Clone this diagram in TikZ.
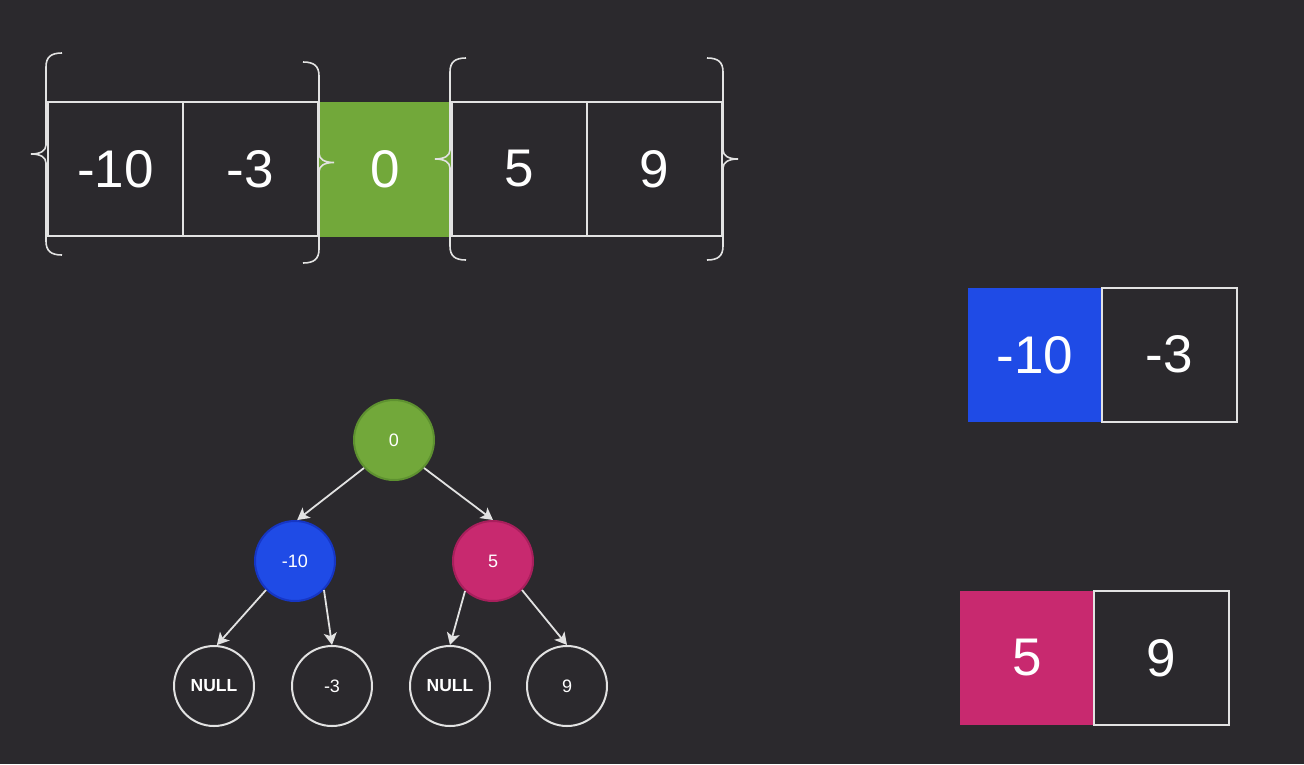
\documentclass[tikz,border=0pt]{standalone}
\usepackage{fontspec}
\setmainfont{Liberation Sans}
\usetikzlibrary{arrows.meta}
\definecolor{bg}{HTML}{2B292D}
\definecolor{ln}{HTML}{E2E2E2}
\definecolor{grn}{HTML}{72A83A}
\definecolor{grnd}{HTML}{5E9130}
\definecolor{blu}{HTML}{1F4BE6}
\definecolor{blud}{HTML}{1636C4}
\definecolor{pnk}{HTML}{C8296F}
\definecolor{pnkd}{HTML}{A81F5C}
\tikzset{
  cell/.style={draw=ln, line width=2pt, minimum width=135pt, minimum height=134pt, inner sep=0pt, text=white, font=\fontsize{53}{53}\selectfont},
  gcell/.style={fill=grn, minimum width=134pt, minimum height=135pt, inner sep=0pt, text=white, font=\fontsize{53}{53}\selectfont},
  ccell/.style={minimum width=134pt, minimum height=134pt, inner sep=0pt, text=white, font=\fontsize{53}{53}\selectfont},
  brc/.style={draw=ln, line width=1.6pt},
  pics/curly/.style={code={
    \draw[brc] (16,{-#1}) .. controls (5,{-#1}) and (0,{-#1+4}) .. (0,{-#1+14})
      -- (0,-9) .. controls (0,-3) and (-6,0) .. (-15,0)
      .. controls (-6,0) and (0,3) .. (0,9)
      -- (0,{#1-14}) .. controls (0,{#1-4}) and (5,{#1}) .. (16,{#1});
  }},
  tnode/.style={circle, minimum size=80pt, inner sep=0pt, line width=2pt, text=white, font=\fontsize{18}{18}\selectfont},
  leaf/.style={tnode, draw=ln, fill=bg},
  nulltext/.style={font=\bfseries\fontsize{17.5}{17.5}\selectfont},
  arr/.style={draw=ln, line width=1.8pt, -{Stealth[length=12pt,width=13pt,inset=3pt]}}
}
\begin{document}
\begin{tikzpicture}[x=1pt,y=-1pt]
\fill[bg] (0,0) rectangle (1304,764);
\useasboundingbox (0,0) rectangle (1304,764);
% top array
\node[gcell] (c3) at (385,169) {0};
\node[cell] (c1) at (115.5,169) {-10};
\node[cell] (c2) at (250.5,169) {-3};
\node[cell] (c4) at (519.5,169) {5};
\node[cell] (c5) at (654.5,169) {9};
% braces
\pic at (46,154) {curly=101};
\pic[xscale=-1] at (319,162.5) {curly=100.5};
\pic at (450,159) {curly=101};
\pic[xscale=-1] at (723,159) {curly=101};
% right arrays
\node[ccell, fill=blu] (b1) at (1035,355) {-10};
\node[cell] (b2) at (1169.5,354.5) {-3};
\node[ccell, fill=pnk] (p1) at (1027,658) {5};
\node[cell] (p2) at (1161.5,658) {9};
% tree
\node[tnode, fill=grn, draw=grnd] (r) at (394,440) {0};
\node[tnode, fill=blu, draw=blud] (m1) at (295,561) {-10};
\node[tnode, fill=pnk, draw=pnkd] (m2) at (493,561) {5};
\node[leaf, nulltext] (l1) at (214,686) {NULL};
\node[leaf] (l2) at (332,686) {-3};
\node[leaf, nulltext] (l3) at (450,686) {NULL};
\node[leaf] (l4) at (567,686) {9};
\draw[arr] (r.223) -- (m1.87);
\draw[arr] (r.317) -- (m2.north);
\draw[arr] (m1.225) -- (l1.86);
\draw[arr] (m1.315) -- (l2.north);
\draw[arr] (m2.227) -- (l3.north);
\draw[arr] (m2.315) -- (l4.north);
\end{tikzpicture}
\end{document}
